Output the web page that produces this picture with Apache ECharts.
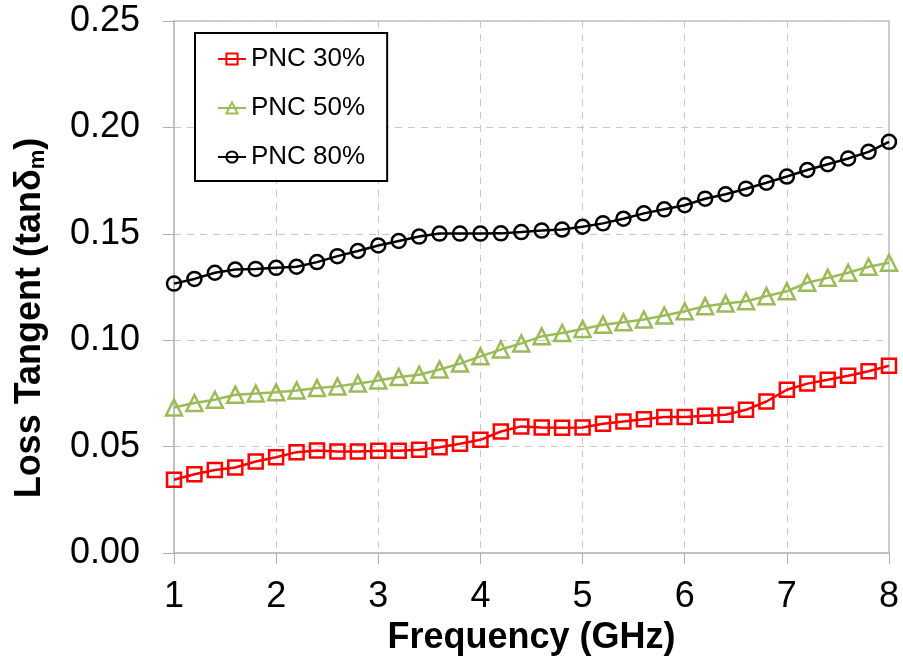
<!DOCTYPE html>
<html><head><meta charset="utf-8">
<script src="https://cdn.jsdelivr.net/npm/echarts@6/dist/echarts.min.js"></script>
<style>html,body{margin:0;padding:0;background:#fff}#c{width:903px;height:663px}</style>
</head><body><div id="c"></div>
<script>
const freq = [1.0,1.2,1.4,1.6,1.8,2.0,2.2,2.4,2.6,2.8,3.0,3.2,3.4,3.6,3.8,4.0,4.2,4.4,4.6,4.8,5.0,5.2,5.4,5.6,5.8,6.0,6.2,6.4,6.6,6.8,7.0,7.2,7.4,7.6,7.8,8.0];
const pnc30 = [0.0344,0.0370,0.0390,0.0402,0.0430,0.0450,0.0474,0.0482,0.0477,0.0477,0.0480,0.0480,0.0485,0.0497,0.0513,0.0532,0.0571,0.0595,0.0590,0.0588,0.0590,0.0607,0.0618,0.0629,0.0639,0.0639,0.0645,0.0650,0.0673,0.0712,0.0767,0.0796,0.0814,0.0833,0.0854,0.0880];
const pnc50 = [0.0684,0.0705,0.0720,0.0744,0.0749,0.0755,0.0764,0.0775,0.0783,0.0796,0.0811,0.0827,0.0838,0.0862,0.0890,0.0924,0.0956,0.0985,0.1018,0.1034,0.1053,0.1073,0.1084,0.1097,0.1116,0.1136,0.1160,0.1172,0.1183,0.1207,0.1230,0.1270,0.1293,0.1317,0.1345,0.1364];
const pnc80 = [0.1266,0.1288,0.1317,0.1332,0.1335,0.1340,0.1345,0.1367,0.1395,0.1419,0.1445,0.1466,0.1487,0.1501,0.1501,0.1501,0.1502,0.1508,0.1515,0.1520,0.1533,0.1549,0.1571,0.1596,0.1615,0.1634,0.1665,0.1686,0.1712,0.1740,0.1769,0.1800,0.1827,0.1854,0.1885,0.1932];
const seriesNames = ['PNC 30%','PNC 50%','PNC 80%'];
const xTicks = {min:1, max:8, step:1};
const yTicks = {min:0, max:0.25, step:0.05};

const FONT = "'Liberation Sans', Arial, sans-serif";
const chart = echarts.init(document.getElementById('c'), null, {renderer:'canvas'});
function mk(name, vals, color, symbol){
  return {
    name, type:'line', data: freq.map((f,i)=>[f, vals[i]]),
    symbol, symbolSize: symbol==='triangle'?16:14, showSymbol:true,
    lineStyle:{color, width:2.5}, itemStyle:{color:'rgba(255,255,255,0)', borderColor:color, borderWidth:2.5},
    emphasis:{disabled:true}, animation:false
  };
}
const grid = {left:174, right:14, top:21, bottom:110, show:true, borderColor:'#c0c0c0', borderWidth:1.5};
chart.setOption({
  animation:false,
  backgroundColor:'#fff',
  grid,
  legend:{
    orient:'vertical', left:195, top:33,
    padding:[13,22,11,22], itemGap:23, itemWidth:28, itemHeight:14,
    borderColor:'#000', borderWidth:2, backgroundColor:'#fff',
    textStyle:{fontFamily:FONT, fontSize:26, color:'#000', lineHeight:26},
    data: seriesNames
  },
  xAxis:{
    type:'value', min:xTicks.min, max:xTicks.max, interval:xTicks.step,
    name:'Frequency (GHz)', nameLocation:'middle', nameGap:66,
    nameTextStyle:{fontFamily:FONT, fontSize:36, fontWeight:'bold', color:'#000'},
    axisLine:{show:true, lineStyle:{color:'#c0c0c0', width:2}},
    axisTick:{show:true, length:11, lineStyle:{color:'#b0b0b0', width:1}},
    axisLabel:{fontFamily:FONT, fontSize:36, color:'#000', margin:26},
    splitLine:{show:true, lineStyle:{color:'#c8c8c8', type:[7,6], width:1}}
  },
  yAxis:{
    type:'value', min:yTicks.min, max:yTicks.max, interval:yTicks.step,
    name:'{a|Loss Tangent (tanδ}{s|m}{a|)}', nameLocation:'middle', nameGap:125,
    nameTextStyle:{padding:[0,62,0,0], rich:{
      a:{fontFamily:FONT, fontSize:36, fontWeight:'bold', color:'#000'},
      s:{fontFamily:FONT, fontSize:22, fontWeight:'bold', color:'#000', padding:[16,0,0,0]}
    }},
    axisLine:{show:true, lineStyle:{color:'#c0c0c0', width:2}},
    axisTick:{show:true, length:11, lineStyle:{color:'#b0b0b0', width:1}},
    axisLabel:{fontFamily:FONT, fontSize:36, color:'#000', margin:34, formatter:v=>v.toFixed(2)},
    splitLine:{show:true, lineStyle:{color:'#c8c8c8', type:[7,6], width:1}}
  },
  series:[
    mk(seriesNames[0], pnc30, '#ff0000', 'rect'),
    mk(seriesNames[1], pnc50, '#9bbb59', 'triangle'),
    mk(seriesNames[2], pnc80, '#000000', 'circle')
  ]
});
</script></body></html>
